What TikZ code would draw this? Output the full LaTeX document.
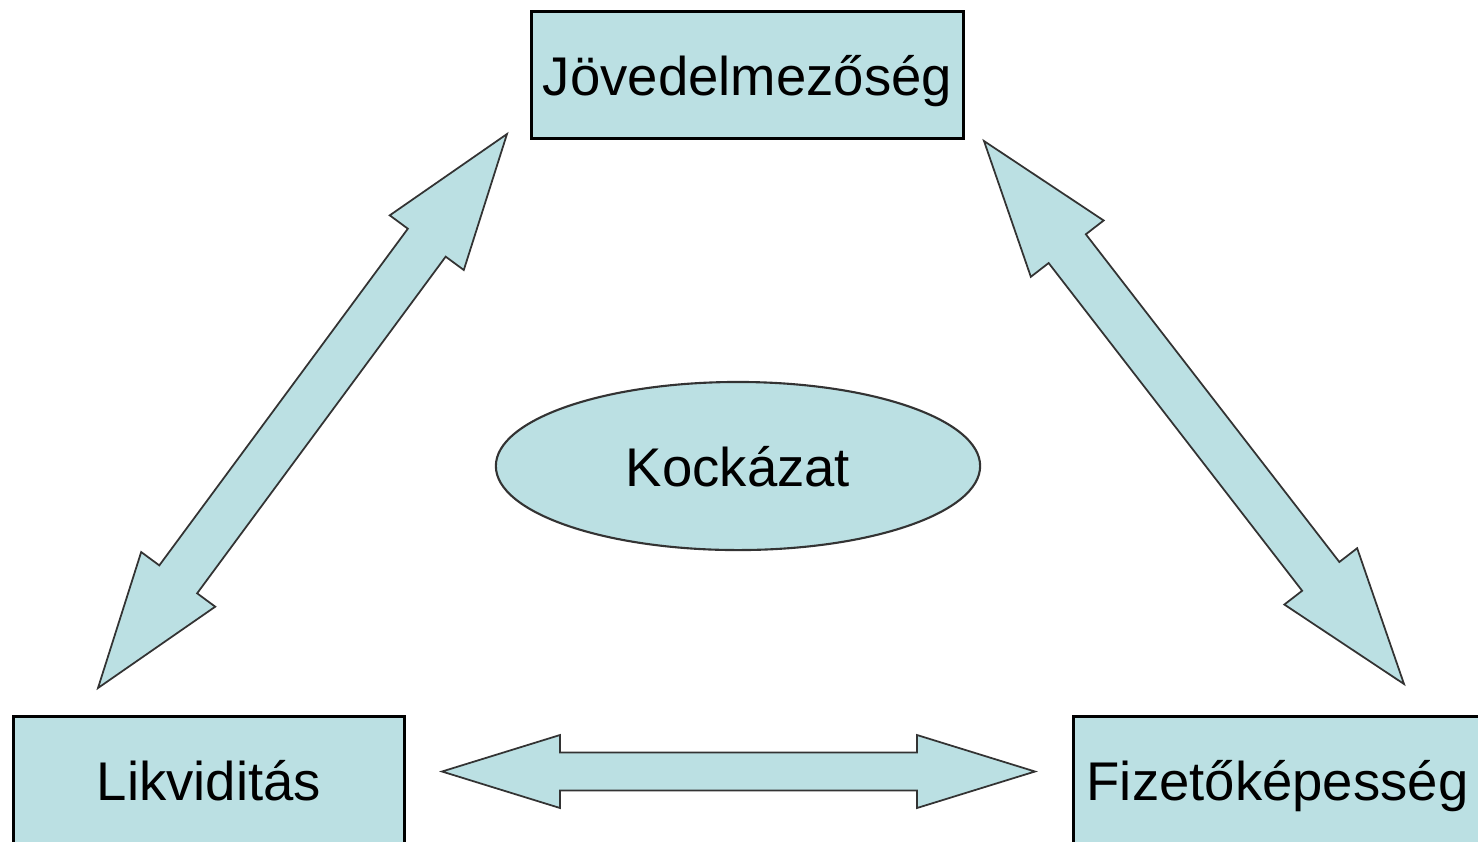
\documentclass[tikz,border=0pt]{standalone}
\usepackage{fontspec}
\setmainfont{Liberation Sans}
\usepackage{tikz}
\usetikzlibrary{calc, shapes.geometric}
\definecolor{ppblue}{HTML}{BBE0E3}

% fat double arrow: tips #1 and #2, head length, head half width, shaft half width
\newcommand{\fatarrow}[5]{%
\draw [arrowbody] (#1)
  -- ($(#1)!#3!(#2)!#4!90:(#2)$) -- ($(#1)!#3!(#2)!#5!90:(#2)$)
  -- ($(#2)!#3!(#1)!#5!-90:(#1)$) -- ($(#2)!#3!(#1)!#4!-90:(#1)$)
  -- (#2)
  -- ($(#2)!#3!(#1)!#4!90:(#1)$) -- ($(#2)!#3!(#1)!#5!90:(#1)$)
  -- ($(#1)!#3!(#2)!#5!-90:(#2)$) -- ($(#1)!#3!(#2)!#4!-90:(#2)$)
  -- cycle;}

\begin{document}
\begin{tikzpicture}[x=0.01cm,y=-0.01cm,
  txt/.style={text height=12pt,text depth=0.6pt,font=\fontsize{15.5}{18}\selectfont},
  box/.style={txt,draw=black,line width=0.8pt,fill=ppblue,minimum height=1.27cm},
  arrowbody/.style={draw=black!80,line width=0.5pt,fill=ppblue,line join=miter}]
\useasboundingbox (0,0) rectangle (1478,841);
\draw node [box,minimum width=4.27cm] (J) at (747.5,75) {Jövedelmezőség};
\draw node [box,minimum width=3.91cm] (L) at (209,780) {Likviditás};
\draw node [box,minimum width=4.07cm] (F) at (1277.5,780) {Fizetőképesség};
\draw node [txt,ellipse,draw=black!80,line width=0.6pt,fill=ppblue,inner sep=0pt,
  minimum width=4.84cm,minimum height=1.68cm] (K) at (738,466) {Kockázat};
% arrow tips
\coordinate (LJa) at (98,688);  \coordinate (LJb) at (507,134);
\coordinate (JFa) at (984,141); \coordinate (JFb) at (1404,684);
\coordinate (LFa) at (442,771.5); \coordinate (LFb) at (1035,771.5);
\fatarrow{LJa}{LJb}{1.35cm}{0.46cm}{0.235cm}
\fatarrow{JFa}{JFb}{1.36cm}{0.46cm}{0.235cm}
\fatarrow{LFa}{LFb}{1.18cm}{0.365cm}{0.19cm}
\end{tikzpicture}
\end{document}
